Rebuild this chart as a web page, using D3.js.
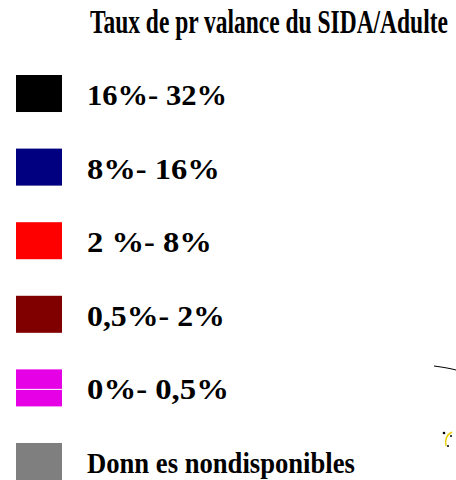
<!DOCTYPE html>
<html>
<head>
<meta charset="utf-8">
<script src="https://cdn.jsdelivr.net/npm/d3@7"></script>
<style>
  body { margin: 0; background: #fff; }
  svg { display: block; }
  text { font-family: "Liberation Serif", "Times New Roman", serif; font-weight: bold; fill: #000; }
</style>
</head>
<body>
<svg width="456" height="480"></svg>
<script>
var title = 'Taux de pr valance du SIDA/Adulte';
var categories = ['16%- 32%', '8%- 16%', '2 %- 8%', '0,5%- 2%', '0%- 0,5%', 'Donn es nondisponibles'];
var colors = ['#000000', '#000080', '#ff0000', '#800000', '#e600e6', '#7f7f7f'];

// squeezed text widths as seen in the picture
var labelWidths = [140, 133, 125, 138, 142, 268];

var width = 456;
var height = 480;

var svg = d3.select('svg');

var y = d3.scaleBand()
  .domain(categories)
  .range([75, 480])
  .paddingInner(0.497)
  .paddingOuter(0);

var color = d3.scaleOrdinal()
  .domain(categories)
  .range(colors);

// squash a text horizontally so it fills the given width
function squeeze(sel, x, w) {
  sel.each(function(d, i) {
    var t = d3.select(this);
    var natural = this.getComputedTextLength();
    var target = typeof w === 'function' ? w(d, i) : w;
    t.attr('x', 0)
      .attr('transform', 'translate(' + x + ',0) scale(' + (target / natural) + ',1)');
  });
}

svg.append('g')
  .attr('transform', 'translate(0,33)')
  .append('text')
  .attr('font-size', 34)
  .text(title)
  .call(squeeze, 90, 358);

var rows = svg.selectAll('g.row')
  .data(categories)
  .enter()
  .append('g')
  .attr('class', 'row')
  .attr('transform', d => 'translate(0,' + y(d) + ')');

rows.append('rect')
  .attr('x', 16)
  .attr('width', 46)
  .attr('height', y.bandwidth())
  .attr('fill', d => color(d));

// thin white line across the pink swatch
rows.filter((d, i) => i === 4)
  .append('line')
  .attr('x1', 16)
  .attr('x2', 62)
  .attr('y1', 20)
  .attr('y2', 20)
  .attr('stroke', '#fff')
  .attr('stroke-width', 1);

rows.append('g')
  .attr('transform', 'translate(0,30)')
  .append('text')
  .attr('font-size', 30)
  .text(d => d)
  .call(squeeze, 87, (d, i) => labelWidths[i]);

// bits of the map peeking in on the right
svg.append('path')
  .attr('d', 'M434,366 L441,367 L447,368 L452,369 L456,370')
  .attr('fill', 'none')
  .attr('stroke', '#000')
  .attr('stroke-width', 1);

svg.append('path')
  .attr('d', 'M452,432 Q444,436 446,446')
  .attr('fill', 'none')
  .attr('stroke', '#e6d000')
  .attr('stroke-width', 1.5);
svg.append('circle').attr('cx', 444).attr('cy', 433).attr('r', 1.3).attr('fill', '#000');
svg.append('circle').attr('cx', 451).attr('cy', 436).attr('r', 1).attr('fill', '#000');
svg.append('circle').attr('cx', 448).attr('cy', 446).attr('r', 1).attr('fill', '#000');
</script>
</body>
</html>
